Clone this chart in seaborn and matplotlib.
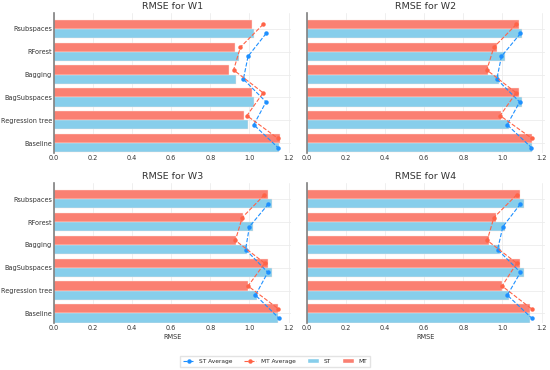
import numpy as np
import pandas as pd
import matplotlib
matplotlib.use("Agg")
import matplotlib.pyplot as plt
import seaborn as sns
from matplotlib.lines import Line2D
from matplotlib.patches import Patch

# Modelos (de arriba hacia abajo)
modelos = ["Rsubspaces", "RForest", "Bagging", "BagSubspaces", "Regression tree", "Baseline"]
paneles = ["W1", "W2", "W3", "W4"]

# RMSE de las barras
st_w1 = [1.024, 0.946, 0.932, 1.025, 0.993, 1.152]
mt_w1 = [1.014, 0.924, 0.898, 1.012, 0.971, 1.155]
st_w2 = [1.100, 1.012, 0.981, 1.100, 1.035, 1.149]
mt_w2 = [1.083, 0.971, 0.927, 1.083, 0.995, 1.149]
st_w3 = [1.114, 1.017, 0.988, 1.114, 1.039, 1.147]
mt_w3 = [1.097, 0.969, 0.932, 1.097, 0.991, 1.147]
st_w4 = [1.112, 1.012, 0.985, 1.112, 1.036, 1.141]
mt_w4 = [1.092, 0.968, 0.930, 1.092, 1.000, 1.141]

# Promedios (puntos)
st_avg_w1 = [1.085, 0.993, 0.969, 1.085, 1.022, 1.146]
mt_avg_w1 = [1.070, 0.954, 0.919, 1.070, 0.987, 1.146]
st_avg_w2 = [1.092, 0.995, 0.971, 1.088, 1.024, 1.148]
mt_avg_w2 = [1.071, 0.956, 0.920, 1.070, 0.988, 1.151]
st_avg_w3 = [1.097, 1.000, 0.980, 1.094, 1.031, 1.150]
mt_avg_w3 = [1.077, 0.963, 0.928, 1.078, 0.993, 1.148]
st_avg_w4 = [1.092, 1.002, 0.975, 1.092, 1.025, 1.149]
mt_avg_w4 = [1.073, 0.956, 0.922, 1.073, 0.998, 1.149]

barras = {"W1": (st_w1, mt_w1), "W2": (st_w2, mt_w2), "W3": (st_w3, mt_w3), "W4": (st_w4, mt_w4)}
promedios = {"W1": (st_avg_w1, mt_avg_w1), "W2": (st_avg_w2, mt_avg_w2),
             "W3": (st_avg_w3, mt_avg_w3), "W4": (st_avg_w4, mt_avg_w4)}

c_st, c_mt = "#87CEEB", "#FA8072"
c_st_avg, c_mt_avg = "#1E90FF", "#FF6347"

sns.set_theme(style="whitegrid")
plt.rcParams["font.family"] = ["DejaVu Sans"]
plt.rcParams["grid.color"] = "#ececec"
plt.rcParams["grid.linewidth"] = 0.6

fig, axes = plt.subplots(2, 2, figsize=(5.5, 3.7), dpi=100, sharey=True)
fig.subplots_adjust(left=0.098, right=0.99, top=0.965, bottom=0.127, wspace=0.065, hspace=0.22)

for i, (ax, w) in enumerate(zip(axes.flat, paneles)):
    st, mt = barras[w]
    df = pd.DataFrame({
        "Modelo": modelos * 2,
        "RMSE": mt + st,
        "Tipo": ["MT"] * len(modelos) + ["ST"] * len(modelos),
    })
    sns.barplot(data=df, x="RMSE", y="Modelo", hue="Tipo", order=modelos,
                hue_order=["MT", "ST"], palette={"MT": c_mt, "ST": c_st},
                orient="h", width=0.8, saturation=1, edgecolor="#fde3dd",
                linewidth=0.3, legend=False, ax=ax)
    pos = np.arange(len(modelos))
    st_avg, mt_avg = promedios[w]
    ax.plot(st_avg, pos + 0.2, linestyle="--", marker="o", color=c_st_avg,
            markersize=2.2, linewidth=0.8)
    ax.plot(mt_avg, pos - 0.2, linestyle="--", marker="o", color=c_mt_avg,
            markersize=2.2, linewidth=0.8)

    ax.set_title(f"RMSE for {w}", fontsize=6.8, color="#333333", pad=3)
    ax.set_xlim(0, 1.215)
    ax.set_ylim(5.42, -0.7)
    ax.set_xticks([0.0, 0.2, 0.4, 0.6, 0.8, 1.0, 1.2])
    ax.set_xticklabels(["0.0", "0.2", "0.4", "0.6", "0.8", "1.0", "1.2"])
    ax.tick_params(axis="both", labelsize=4.7, colors="#333333", pad=1.5, length=0)
    ax.set_ylabel("")
    if i >= 2:
        ax.set_xlabel("RMSE", fontsize=4.7, color="#333333", labelpad=2)
    else:
        ax.set_xlabel("")
    for s in ["top", "right", "bottom"]:
        ax.spines[s].set_visible(False)
    ax.spines["left"].set_color("#808080")
    ax.spines["left"].set_linewidth(1.2)
    ax.grid(True, axis="both")
    ax.set_axisbelow(True)

handles = [
    Line2D([], [], linestyle="--", marker="o", color=c_st_avg, markersize=2.2, linewidth=0.8),
    Line2D([], [], linestyle="--", marker="o", color=c_mt_avg, markersize=2.2, linewidth=0.8),
    Patch(facecolor=c_st),
    Patch(facecolor=c_mt),
]
fig.legend(handles, ["ST Average", "MT Average", "ST", "MT"], loc="center",
           bbox_to_anchor=(0.5, 0.024), ncol=4, fontsize=4.2, frameon=True,
           edgecolor="#dddddd", fancybox=False, handlelength=2.0, handleheight=0.8,
           columnspacing=2.0, borderpad=0.5)

fig.savefig("out.png", dpi=100)
